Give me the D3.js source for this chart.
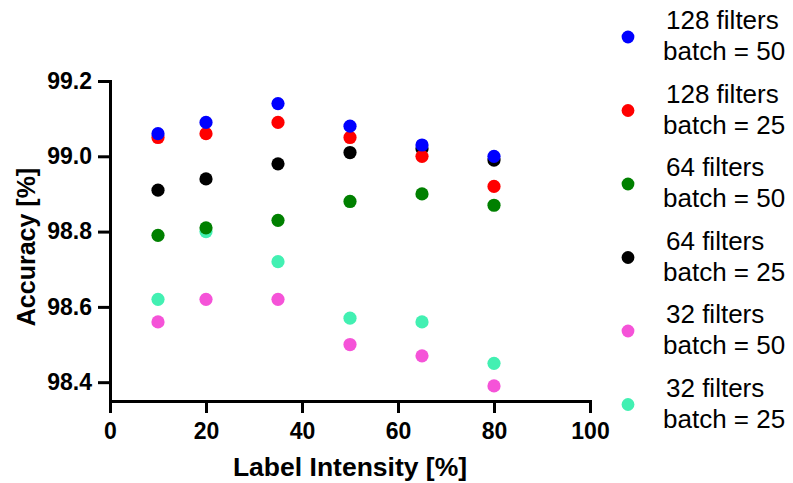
<!DOCTYPE html>
<html>
<head>
<meta charset="utf-8">
<script src="https://cdn.jsdelivr.net/npm/d3@7"></script>
<style>
  body { margin: 0; background: #fff; }
  svg { font-family: "Liberation Sans", Arial, sans-serif; }
</style>
</head>
<body>
<div class="canvas"></div>
<script>
const width = 793;
const height = 483;
const margins = { top: 81, right: 203, bottom: 82, left: 110 };
const graphWidth = width - margins.left - margins.right;
const graphHeight = height - margins.top - margins.bottom;

// data
const intensity = [10, 20, 35, 50, 65, 80];
const seriesNames = [
  ["128 filters", "batch = 50"],
  ["128 filters", "batch = 25"],
  ["64 filters", "batch = 50"],
  ["64 filters", "batch = 25"],
  ["32 filters", "batch = 50"],
  ["32 filters", "batch = 25"],
];
const colors = ["#0000ff", "#ff0000", "#008000", "#000000", "#f553d8", "#42f0b2"];
const f128b50 = [99.06, 99.09, 99.14, 99.08, 99.03, 99.0];
const f128b25 = [99.05, 99.06, 99.09, 99.05, 99.0, 98.92];
const f64b50 = [98.79, 98.81, 98.83, 98.88, 98.9, 98.87];
const f64b25 = [98.91, 98.94, 98.98, 99.01, 99.02, 98.99];
const f32b50 = [98.56, 98.62, 98.62, 98.5, 98.47, 98.39];
const f32b25 = [98.62, 98.8, 98.72, 98.57, 98.56, 98.45];
const seriesValues = [f128b50, f128b25, f64b50, f64b25, f32b50, f32b25];
const xTicks = [0, 20, 40, 60, 80, 100];
const yTicks = [98.4, 98.6, 98.8, 99.0, 99.2];

const series = seriesValues.map((vals, i) => ({
  name: seriesNames[i],
  color: colors[i],
  points: vals.map((v, j) => ({ x: intensity[j], y: v })),
}));

const svg = d3
  .select(".canvas")
  .append("svg")
  .attr("width", width)
  .attr("height", height);

const graph = svg
  .append("g")
  .attr("transform", `translate(${margins.left}, ${margins.top})`);

// scales
const x = d3.scaleLinear().domain([0, 100]).range([0, graphWidth]);
const y = d3.scaleLinear().domain([98.35, 99.2]).range([graphHeight, 0]);

// axes
const xAxis = d3.axisBottom(x).tickValues(xTicks).tickSize(12).tickSizeOuter(0).tickPadding(10);
const yAxis = d3
  .axisLeft(y)
  .tickValues(yTicks)
  .tickSize(12)
  .tickSizeOuter(0)
  .tickPadding(6)
  .tickFormat(d3.format(".1f"));

const xAxisGroup = graph
  .append("g")
  .attr("transform", `translate(0, ${graphHeight})`)
  .call(xAxis);
const yAxisGroup = graph.append("g").call(yAxis);

[xAxisGroup, yAxisGroup].forEach((g) => {
  g.select(".domain").attr("stroke", "#000").attr("stroke-width", 3).attr("stroke-linecap", "square");
  g.selectAll(".tick line").attr("stroke", "#000").attr("stroke-width", 3);
  g.selectAll(".tick text")
    .attr("fill", "#000")
    .style("font-size", "23px")
    .style("font-weight", "bold");
});

// axis titles
svg
  .append("text")
  .attr("x", margins.left + graphWidth / 2)
  .attr("y", 476)
  .attr("text-anchor", "middle")
  .style("font-size", "26.5px")
  .style("font-weight", "bold")
  .text("Label Intensity [%]");

svg
  .append("text")
  .attr("transform", `translate(35, ${margins.top + graphHeight / 2 + 6}) rotate(-90)`)
  .attr("text-anchor", "middle")
  .style("font-size", "25px")
  .style("font-weight", "bold")
  .text("Accuracy [%]");

// points, last series drawn first
const groups = graph
  .selectAll(".series")
  .data(series.slice().reverse())
  .enter()
  .append("g")
  .attr("class", "series")
  .attr("fill", (d) => d.color);

groups
  .selectAll("circle")
  .data((d) => d.points)
  .enter()
  .append("circle")
  .attr("r", 6.6)
  .attr("cx", (d) => x(d.x))
  .attr("cy", (d) => y(d.y));

// legend
const legend = svg
  .selectAll(".legend")
  .data(series)
  .enter()
  .append("g")
  .attr("class", "legend")
  .attr("transform", (d, i) => `translate(628, ${37 + i * 73.5})`);

legend.append("circle").attr("r", 6.4).attr("fill", (d) => d.color);

legend
  .append("text")
  .attr("x", 38)
  .attr("y", -8)
  .style("font-size", "26px")
  .text((d) => d.name[0]);

legend
  .append("text")
  .attr("x", 35)
  .attr("y", 23)
  .style("font-size", "26px")
  .text((d) => d.name[1]);
</script>
</body>
</html>
